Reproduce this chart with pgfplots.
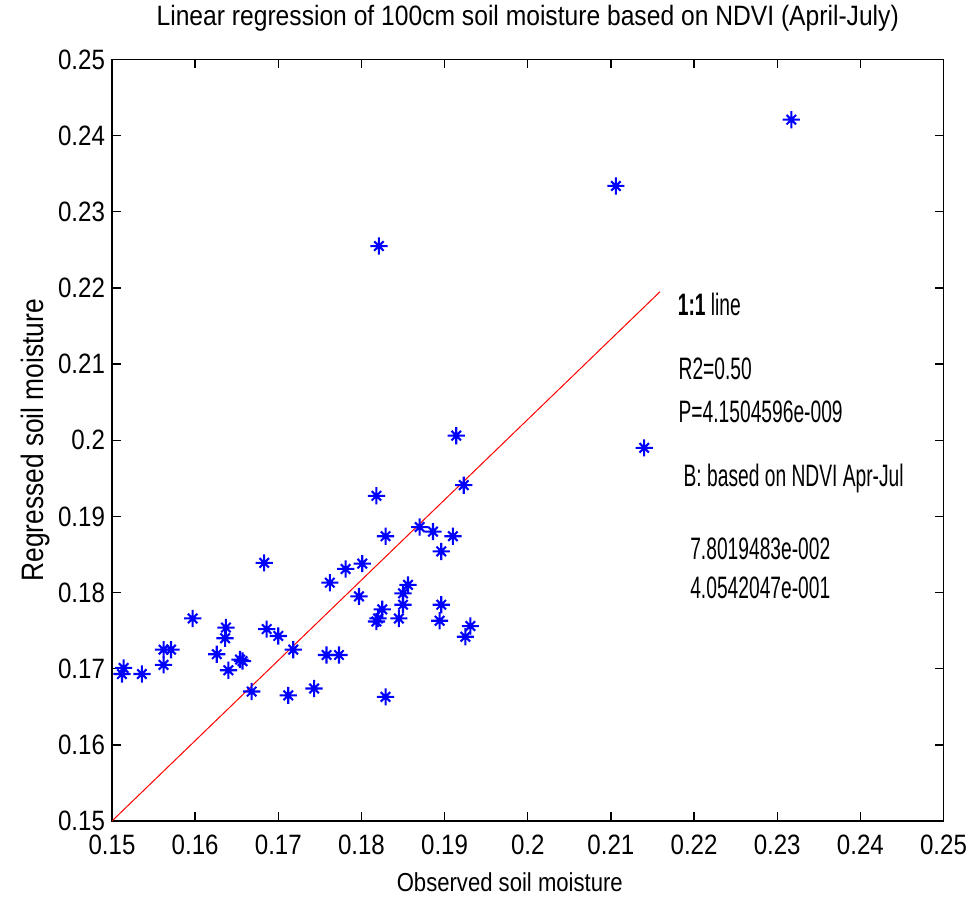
\documentclass[border=0pt]{standalone}
\usepackage{fontspec}
\setmainfont{Liberation Sans}
\newfontfamily\tickfont{Liberation Sans}[FakeStretch=0.86]
\newfontfamily\annfont{Liberation Sans}[FakeStretch=0.62]
\newfontfamily\titlefont{Liberation Sans}[FakeStretch=0.88]
\newfontfamily\labfont{Liberation Sans}[FakeStretch=0.85]
\usepackage{pgfplots}
\usepackage{pgfplotstable}
\pgfplotsset{compat=1.18}

\pgfdeclareplotmark{mstar}{%
  \pgfpathmoveto{\pgfqpoint{-\pgfplotmarksize}{0pt}}%
  \pgfpathlineto{\pgfqpoint{\pgfplotmarksize}{0pt}}%
  \pgfpathmoveto{\pgfqpoint{0pt}{-\pgfplotmarksize}}%
  \pgfpathlineto{\pgfqpoint{0pt}{\pgfplotmarksize}}%
  \pgfpathmoveto{\pgfqpoint{-0.55\pgfplotmarksize}{-0.55\pgfplotmarksize}}%
  \pgfpathlineto{\pgfqpoint{0.55\pgfplotmarksize}{0.55\pgfplotmarksize}}%
  \pgfpathmoveto{\pgfqpoint{-0.55\pgfplotmarksize}{0.55\pgfplotmarksize}}%
  \pgfpathlineto{\pgfqpoint{0.55\pgfplotmarksize}{-0.55\pgfplotmarksize}}%
  \pgfusepathqstroke}

\pgfplotstableread{
x y
0.2317 0.2421
0.2106 0.2334
0.1821 0.2255
0.2140 0.1990
0.1914 0.2006
0.1923 0.1941
0.1818 0.1927
0.1829 0.1874
0.1870 0.1886
0.1886 0.1880
0.1910 0.1874
0.1896 0.1854
0.1762 0.1813
0.1781 0.1831
0.1801 0.1838
0.1797 0.1795
0.1856 0.1810
0.1850 0.1799
0.1850 0.1784
0.1825 0.1778
0.1820 0.1766
0.1818 0.1762
0.1845 0.1766
0.1896 0.1784
0.1894 0.1763
0.1931 0.1756
0.1925 0.1742
0.1758 0.1718
0.1773 0.1718
0.1743 0.1674
0.1829 0.1663
0.1514 0.1701
0.1512 0.1693
0.1536 0.1693
0.1562 0.1725
0.1571 0.1725
0.1562 0.1705
0.1597 0.1766
0.1626 0.1719
0.1637 0.1754
0.1636 0.1740
0.1640 0.1698
0.1654 0.1712
0.1657 0.1710
0.1683 0.1839
0.1686 0.1752
0.1700 0.1743
0.1718 0.1725
0.1668 0.1670
0.1712 0.1665
}\datatable

\begin{document}
\begin{tikzpicture}
\begin{axis}[
  width=415.75pt, height=380.75pt, scale only axis,
  xmin=0.15, xmax=0.25, ymin=0.15, ymax=0.25,
  xtick={0.15,0.16,0.17,0.18,0.19,0.2,0.21,0.22,0.23,0.24,0.25},
  ytick={0.15,0.16,0.17,0.18,0.19,0.2,0.21,0.22,0.23,0.24,0.25},
  /pgf/number format/fixed, /pgf/number format/precision=2,
  /pgf/number format/assume math mode=true,
  tick align=inside, xtick pos=both, ytick pos=both,
  major tick length=4.5pt,
  axis line style={line width=0.8pt},
  every tick/.style={black, line width=0.7pt},
  ticklabel style={font=\tickfont\fontsize{14}{16}\selectfont},
  xticklabel style={yshift=-3.5pt},
  title={Linear regression of 100cm soil moisture based on NDVI (April-July)},
  title style={font=\titlefont\fontsize{14}{16}\selectfont, at={(axis description cs:0.5,1.0387)}, anchor=center},
  xlabel={Observed soil moisture},
  xlabel style={font=\labfont\fontsize{13}{15}\selectfont, at={(axis description cs:0.4784,-0.0801)}, anchor=center},
  ylabel={Regressed soil moisture},
  ylabel style={font=\labfont\fontsize{15.5}{17}\selectfont, at={(axis description cs:-0.0926,0.5)}, anchor=center},
  clip=false,
]
\addplot[red, line width=0.5pt] coordinates {(0.15,0.15) (0.2159,0.2195)};
\addplot[only marks, blue, mark=mstar, mark size=4.3pt, line width=1.05pt] table[x=x,y=y] {\datatable};
\node[anchor=west, inner sep=0pt, font=\annfont\fontsize{15.5}{17}\selectfont] at (axis cs:0.2180,0.2178) {\textbf{1:1} line};
\node[anchor=west, inner sep=0pt, font=\annfont\fontsize{15.5}{17}\selectfont] at (axis cs:0.2181,0.2094) {R2=0.50};
\node[anchor=west, inner sep=0pt, font=\annfont\fontsize{15.5}{17}\selectfont] at (axis cs:0.2181,0.2037) {P=4.1504596e-009};
\node[anchor=west, inner sep=0pt, font=\annfont\fontsize{15.5}{17}\selectfont] at (axis cs:0.2187,0.1950) {B: based on NDVI Apr-Jul};
\node[anchor=west, inner sep=0pt, font=\annfont\fontsize{15.5}{17}\selectfont] at (axis cs:0.2195,0.1858) {7.8019483e-002};
\node[anchor=west, inner sep=0pt, font=\annfont\fontsize{15.5}{17}\selectfont] at (axis cs:0.2195,0.1806) {4.0542047e-001};
\end{axis}
\pgfresetboundingbox
\path ([shift={(-56pt,-37.5pt)}]current axis.south west) rectangle ([shift={(13.25pt,29.75pt)}]current axis.north east);
\end{tikzpicture}
\end{document}
